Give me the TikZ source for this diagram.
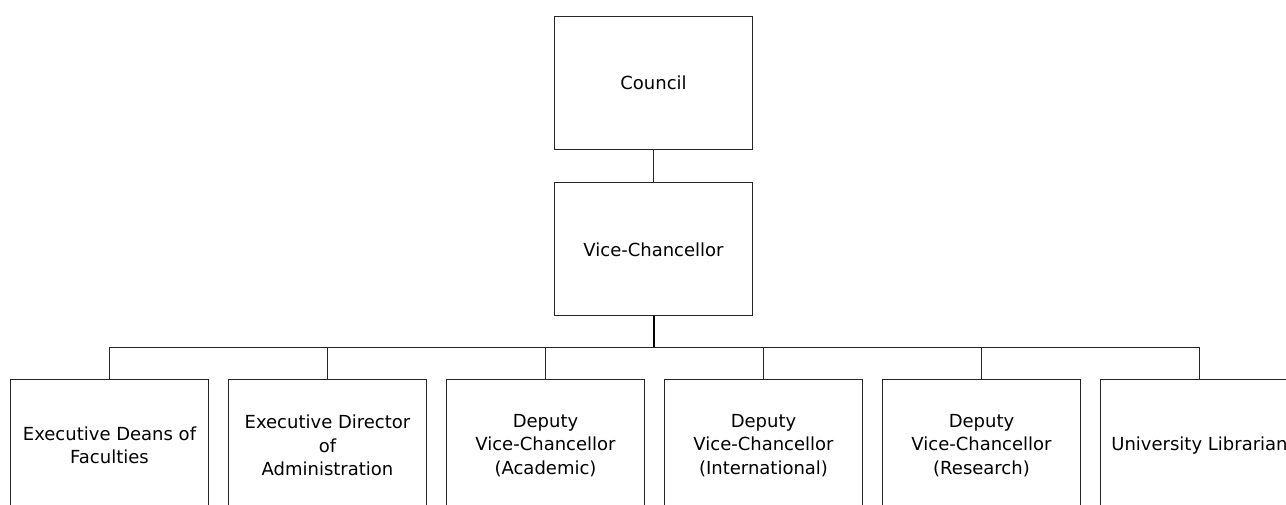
\documentclass[tikz,border=0pt]{standalone}
\usepackage{fontspec}
\setmainfont{DejaVu Sans}
\begin{document}
\begin{tikzpicture}[x=1pt,y=1pt,
  orgbox/.style={draw=black!85,line width=1pt,fill=white,inner sep=0pt,
    minimum width=198pt,minimum height=133pt,align=center,
    font=\fontsize{18}{23.5}\selectfont},
  link/.style={draw=black!85,line width=1pt},
  thicklink/.style={draw=black,line width=2pt}]
\useasboundingbox (0,0) rectangle (1286,504);
\clip (0,0) rectangle (1286,504);
\node[orgbox] (council) at (653.5,421) {Council};
\node[orgbox] (vc) at (653.5,254.5) {Vice-Chancellor};
\coordinate (bus) at (653.5,156);
\node[orgbox] (b1) at (109.5,58.5) {Executive Deans of\\Faculties};
\node[orgbox] (b2) at (327.5,58.5) {Executive Director\\of\\Administration};
\node[orgbox] (b3) at (545.5,58.5) {Deputy\\Vice-Chancellor\\(Academic)};
\node[orgbox] (b4) at (763.5,58.5) {Deputy\\Vice-Chancellor\\ (International)};
\node[orgbox] (b5) at (981.5,58.5) {Deputy\\Vice-Chancellor\\(Research)};
\node[orgbox] (b6) at (1199.5,58.5) {University Librarian};
\draw[link] (council) -- (vc);
\draw[thicklink] (vc.south) -- (bus);
\foreach \b in {b1,b2,b3,b4,b5,b6}{
  \draw[link] (\b.north) |- (bus);
}
\end{tikzpicture}
\end{document}
